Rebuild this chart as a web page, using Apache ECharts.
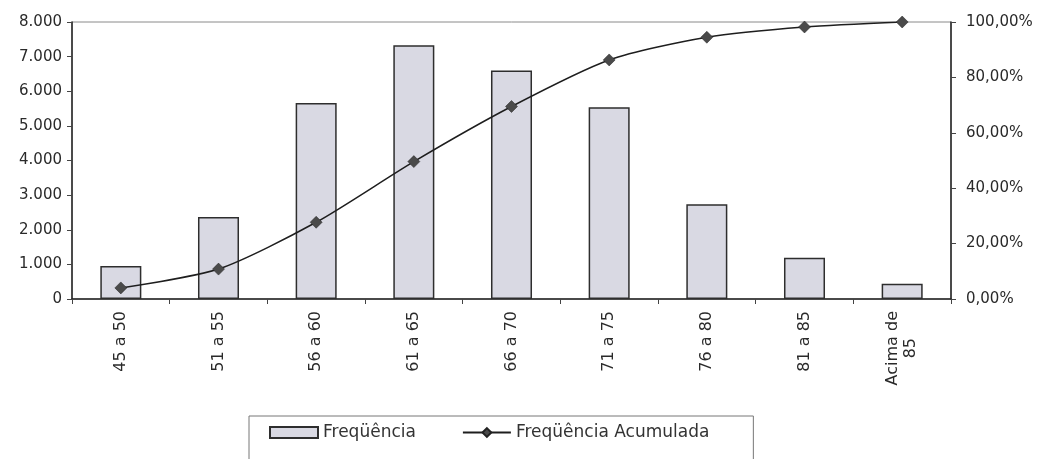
<!DOCTYPE html>
<html>
<head>
<meta charset="utf-8">
<script src="https://cdn.jsdelivr.net/npm/echarts@6/dist/echarts.min.js"></script>
<style>
html,body{margin:0;padding:0;background:#fff;}
#chart{width:1046px;height:459px;}
</style>
</head>
<body>
<div id="chart"></div>
<script>
const categories = ['45 a 50', '51 a 55', '56 a 60', '61 a 65', '66 a 70', '71 a 75', '76 a 80', '81 a 85', 'Acima de\n85'];
const frequencia = [950, 2370, 5660, 7330, 6600, 5540, 2740, 1190, 440];
const acumulada = [4.0, 10.8, 27.7, 49.6, 69.5, 86.3, 94.5, 98.2, 100];
const leftAxisMax = 8000, leftAxisInterval = 1000;
const rightAxisMax = 100, rightAxisInterval = 20;
const seriesNames = ['Freqüência', 'Freqüência Acumulada'];

const FONT = 'DejaVu Sans';
const chart = echarts.init(document.getElementById('chart'), null, {renderer: 'canvas'});

function fmtThousands(v) {
  return String(v).replace(/\B(?=(\d{3})+(?!\d))/g, '.');
}

chart.setOption({
  animation: false,
  backgroundColor: '#ffffff',
  textStyle: {fontFamily: FONT, color: '#2a2a2a'},
  grid: {
    left: 72, right: 95, top: 22, bottom: 160,
    show: true, borderColor: '#8a8a8a', borderWidth: 1, backgroundColor: 'transparent'
  },
  legend: {
    left: 249, top: 416,
    padding: [8, 44, 30, 20],
    itemGap: 46,
    itemWidth: 48, itemHeight: 11,
    borderColor: '#777', borderWidth: 1,
    textStyle: {fontFamily: FONT, fontSize: 17, color: '#333'},
    data: [{name: seriesNames[0], icon: 'rect'}, {name: seriesNames[1]}]
  },
  xAxis: {
    type: 'category',
    data: categories,
    boundaryGap: true,
    axisLine: {lineStyle: {color: '#222', width: 1.5}},
    axisTick: {show: true, length: 5, lineStyle: {color: '#444'}},
    axisLabel: {
      rotate: 90, margin: 12, fontSize: 16, color: '#2a2a2a', fontFamily: FONT,
      lineHeight: 18,
      formatter: function (v) {
        const parts = v.split('\n');
        if (parts.length < 2) return v;
        return parts.map(p => '{c|' + p + '}').join('\n');
      },
      rich: {
        c: {align: 'center', fontSize: 16, fontFamily: FONT, color: '#2a2a2a', lineHeight: 18}
      }
    }
  },
  yAxis: [
    {
      type: 'value', min: 0, max: leftAxisMax, interval: leftAxisInterval,
      splitLine: {show: false},
      axisLine: {show: true, lineStyle: {color: '#222', width: 1.5}},
      axisTick: {show: true, length: 5, lineStyle: {color: '#444'}},
      axisLabel: {margin: 10, fontSize: 15, color: '#2a2a2a', fontFamily: FONT,
        formatter: fmtThousands}
    },
    {
      type: 'value', min: 0, max: rightAxisMax, interval: rightAxisInterval,
      position: 'right',
      splitLine: {show: false},
      axisLine: {show: true, lineStyle: {color: '#222', width: 1.5}},
      axisTick: {show: true, length: 5, lineStyle: {color: '#444'}},
      axisLabel: {margin: 15, fontSize: 15, color: '#2a2a2a', fontFamily: FONT,
        formatter: v => v.toFixed(2).replace('.', ',') + '%'}
    }
  ],
  series: [
    {
      name: seriesNames[0],
      type: 'bar',
      yAxisIndex: 0,
      data: frequencia,
      barWidth: '42%',
      itemStyle: {color: '#d9d9e3', borderColor: '#2e2e2e', borderWidth: 1.5}
    },
    {
      name: seriesNames[1],
      type: 'line',
      yAxisIndex: 1,
      data: acumulada,
      smooth: 0.25,
      symbol: 'diamond',
      symbolSize: 12,
      lineStyle: {color: '#1e1e1e', width: 1.5},
      itemStyle: {color: '#4a4a4a', borderColor: '#222', borderWidth: 0.5}
    }
  ]
});
</script>
</body>
</html>
